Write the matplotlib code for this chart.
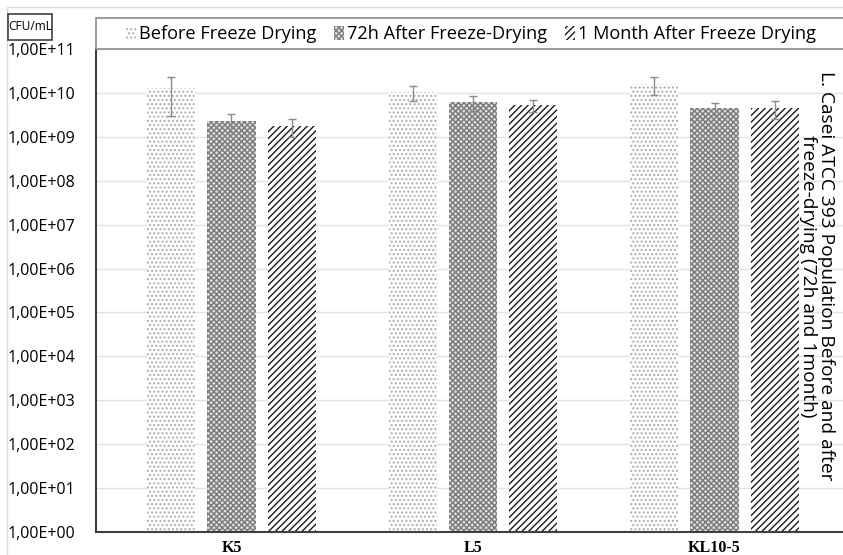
import matplotlib
matplotlib.use("Agg")
import matplotlib.pyplot as plt
import numpy as np
from matplotlib.patches import Rectangle
from matplotlib.ticker import FixedLocator, NullLocator

categories = ["K5", "L5", "KL10-5"]
series_names = ["Before Freeze Drying", "72h After Freeze-Drying", "1 Month After Freeze Drying"]
before = [1.3e10, 1.05e10, 1.6e10]
before_err = [1.0e10, 4.0e9, 7.0e9]
h72 = [2.3e9, 6.2e9, 4.6e9]
h72_err = [1.0e9, 2.3e9, 1.4e9]
month1 = [1.8e9, 5.3e9, 4.6e9]
month1_err = [0.8e9, 1.6e9, 2.0e9]
ytick_labels = ["1,00E+00", "1,00E+01", "1,00E+02", "1,00E+03", "1,00E+04", "1,00E+05",
                "1,00E+06", "1,00E+07", "1,00E+08", "1,00E+09", "1,00E+10", "1,00E+11"]
ylabel_text = "CFU/mL"
side_title = "L. Casei ATCC 393 Population Before and after\nfreeze-drying (72h and 1month)"

W, H = 843, 555
fig = plt.figure(figsize=(W / 100, H / 100), dpi=100)
plt.rcParams['hatch.linewidth'] = 1.0

ax = fig.add_axes([96 / W, 1 - 532 / H, 1 - 96 / W, (532 - 49) / H])
x = np.arange(len(categories))
bw = 0.199
off = 0.25

styles = [
    dict(facecolor="white", edgecolor="#adadad", hatch="...."),
    dict(facecolor="#dcdcdc", edgecolor="#7a7a7a", hatch="xxxxxx"),
    dict(facecolor="white", edgecolor="#1a1a1a", hatch="/////"),
]
data = [(before, before_err), (h72, h72_err), (month1, month1_err)]
handles = []
for i, ((vals, errs), st) in enumerate(zip(data, styles)):
    b = ax.bar(x + (i - 1) * off, vals, width=bw, bottom=1, linewidth=0, zorder=2, **st)
    ax.errorbar(x + (i - 1) * off, vals, yerr=errs, fmt="none", ecolor="#8c8c8c",
                elinewidth=1, capsize=3, capthick=1, zorder=3)
    handles.append(b)

ax.set_yscale("log")
ax.set_ylim(1, 1e11)
ax.set_xlim(-0.561, 2.532)
ax.yaxis.set_major_locator(FixedLocator([10.0 ** k for k in range(12)]))
ax.yaxis.set_minor_locator(NullLocator())
ax.set_yticklabels(ytick_labels, fontfamily="Open Sans", fontsize=11.5)
ax.set_xticks(x)
ax.set_xticklabels(categories, fontfamily="Liberation Serif", fontweight="bold", fontsize=11.5)
ax.tick_params(axis="x", length=0, pad=6)
ax.tick_params(axis="y", length=0, pad=64)
for lab in ax.get_yticklabels():
    lab.set_horizontalalignment("left")
ax.grid(axis="y", color="#e3e3e3", linewidth=1, zorder=0)
ax.set_axisbelow(True)
for s in ["top", "right"]:
    ax.spines[s].set_visible(False)
ax.spines["left"].set_color("#404040")
ax.spines["bottom"].set_color("#404040")
ax.spines["left"].set_linewidth(1.5)
ax.spines["bottom"].set_linewidth(1.5)

# legend box
fig.patches.append(Rectangle((96 / W, 1 - 49 / H), 1.0, 31 / H, transform=fig.transFigure,
                             facecolor="white", edgecolor="#8c8c8c", linewidth=1.2, zorder=5))
leg = fig.legend(handles, series_names, loc="center left",
                 bbox_to_anchor=(126 / W, 1 - 34 / H),
                 ncol=3, frameon=False,
                 prop={"family": "Open Sans", "size": 13.1}, handlelength=0.55,
                 handleheight=0.8, handletextpad=0.15, borderaxespad=0, columnspacing=1.0,
                 borderpad=0)
leg.set_zorder(6)

# CFU/mL box
fig.patches.append(Rectangle((8 / W, 1 - 40 / H), 44 / W, 26 / H, transform=fig.transFigure,
                             facecolor="white", edgecolor="#404040", linewidth=1.2, zorder=5))
fig.text(30 / W, 1 - 27 / H, ylabel_text, ha="center", va="center", fontfamily="Open Sans",
         fontsize=8.6, zorder=6)

fig.text(817 / W, 1 - 276 / H, side_title, rotation=270, ha="center", va="center",
         multialignment="center", fontfamily="Open Sans", fontsize=13.8, linespacing=0.97)

fig.patches.append(Rectangle((7 / W, -0.1), 1.2, 1 - 7 / H + 0.1, transform=fig.transFigure,
                             fill=False, edgecolor="#d9d9d9", linewidth=1))

fig.savefig("out.png", dpi=100)
